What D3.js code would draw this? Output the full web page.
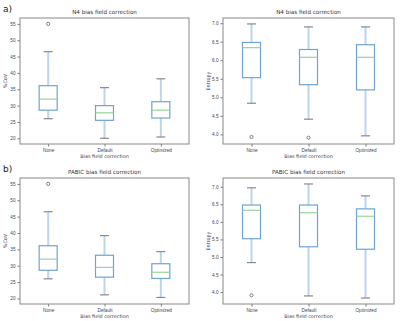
<!DOCTYPE html>
<meta charset="utf-8">
<style>
body { margin: 0; background: #fff; }
svg { font-family: "DejaVu Sans", sans-serif; }
.frame { fill: none; stroke: #888; stroke-width: 1; }
.axis text { font-size: 4.7px; fill: #444; }
.axis path { display: none; }
.axis line { stroke: #777; }
.whisker { stroke: #b9d6ee; stroke-width: 2; }
.box { fill: #fff; stroke: #6fa3d3; stroke-width: 1.2; }
.median { stroke: #97d497; stroke-width: 1.2; }
.cap { stroke: #888; stroke-width: 1.2; }
.flier { fill: none; stroke: #555; stroke-width: 0.7; }
</style>
<body>
<script src="https://cdn.jsdelivr.net/npm/d3@7"></script>
<script>

var groups = ["None", "Default", "Optimized"];

// [low whisker, Q1, median, Q3, high whisker], outliers
var n4Cov = [[26.0, 28.6, 32.0, 36.1, 46.5], [20.0, 25.5, 27.8, 30.0, 35.5], [20.4, 26.2, 28.6, 31.2, 38.2]];
var n4CovOut = [[55.0], [], []];
var n4Ent = [[4.84, 5.53, 6.34, 6.48, 6.98], [4.41, 5.34, 6.08, 6.29, 6.90], [3.96, 5.20, 6.08, 6.42, 6.90]];
var n4EntOut = [[3.93], [3.91], []];
var pabicCov = [[26.0, 28.6, 32.0, 36.1, 46.5], [21.1, 26.5, 29.5, 33.2, 39.2], [20.3, 26.1, 28.0, 30.6, 34.3]];
var pabicCovOut = [[55.0], [], []];
var pabicEnt = [[4.84, 5.52, 6.33, 6.48, 6.97], [3.89, 5.29, 6.26, 6.48, 7.08], [3.83, 5.22, 6.16, 6.37, 6.74]];
var pabicEntOut = [[3.91], [], []];

var covTicks = [20, 25, 30, 35, 40, 45, 50, 55];
var entTicks = [4.0, 4.5, 5.0, 5.5, 6.0, 6.5, 7.0];

var svg = d3.select("body").append("svg").attr("width", 400).attr("height", 321);

function panel(x0, x1, y0, y1, domain, ticks, fmt, stats, outs, title, ylabel) {
  var g = svg.append("g");
  var x = d3.scalePoint().domain(groups).range([x0, x1]).padding(0.5);
  var y = d3.scaleLinear().domain(domain).range([y1, y0]);

  g.append("g").attr("class", "axis").attr("transform", "translate(" + x0 + ",0)")
    .call(d3.axisLeft(y).tickValues(ticks).tickFormat(d3.format(fmt)).tickSize(2.5).tickPadding(2));
  g.append("g").attr("class", "axis").attr("transform", "translate(0," + y1 + ")")
    .call(d3.axisBottom(x).tickSize(2.5).tickPadding(2));

  var bw = 18;
  groups.forEach(function(k, i) {
    var s = stats[i], cx = x(k);
    g.append("line").attr("class", "whisker").attr("x1", cx).attr("x2", cx).attr("y1", y(s[0])).attr("y2", y(s[1]));
    g.append("line").attr("class", "whisker").attr("x1", cx).attr("x2", cx).attr("y1", y(s[3])).attr("y2", y(s[4]));
    g.append("rect").attr("class", "box").attr("x", cx - bw / 2).attr("width", bw)
      .attr("y", y(s[3])).attr("height", y(s[1]) - y(s[3]));
    g.append("line").attr("class", "median").attr("x1", cx - bw / 2).attr("x2", cx + bw / 2).attr("y1", y(s[2])).attr("y2", y(s[2]));
    [s[0], s[4]].forEach(function(v) {
      g.append("line").attr("class", "cap").attr("x1", cx - 4.5).attr("x2", cx + 4.5).attr("y1", y(v)).attr("y2", y(v));
    });
    outs[i].forEach(function(v) {
      g.append("circle").attr("class", "flier").attr("cx", cx).attr("cy", y(v)).attr("r", 1.6);
    });
  });

  g.append("rect").attr("class", "frame").attr("x", x0).attr("y", y0).attr("width", x1 - x0).attr("height", y1 - y0);

  g.append("text").attr("x", (x0 + x1) / 2).attr("y", y0 - 4).attr("text-anchor", "middle")
    .style("font-size", "5.6px").style("fill", "#333").text(title);
  g.append("text").attr("x", (x0 + x1) / 2).attr("y", y1 + 13.5).attr("text-anchor", "middle")
    .style("font-size", "4.9px").style("fill", "#444").text("Bias field correction");
  g.append("text").attr("transform", "translate(" + (x0 - 13) + "," + ((y0 + y1) / 2) + ") rotate(-90)")
    .attr("text-anchor", "middle").style("font-size", "4.9px").style("fill", "#444").text(ylabel);
}

panel(20, 189, 18, 144, [18.26, 56.8], covTicks, "d", n4Cov, n4CovOut, "N4 bias field correction", "%CoV");
panel(223, 394, 18, 144, [3.74, 7.14], entTicks, ".1f", n4Ent, n4EntOut, "N4 bias field correction", "Entropy");
panel(20, 189, 178, 304, [18.3, 56.8], covTicks, "d", pabicCov, pabicCovOut, "PABIC bias field correction", "%CoV");
panel(223, 394, 178, 304, [3.66, 7.25], entTicks, ".1f", pabicEnt, pabicEntOut, "PABIC bias field correction", "Entropy");

svg.append("text").attr("x", 3).attr("y", 12).style("font-size", "9px").style("fill", "#222").text("a)");
svg.append("text").attr("x", 3).attr("y", 172).style("font-size", "9px").style("fill", "#222").text("b)");

</script>
</body>
